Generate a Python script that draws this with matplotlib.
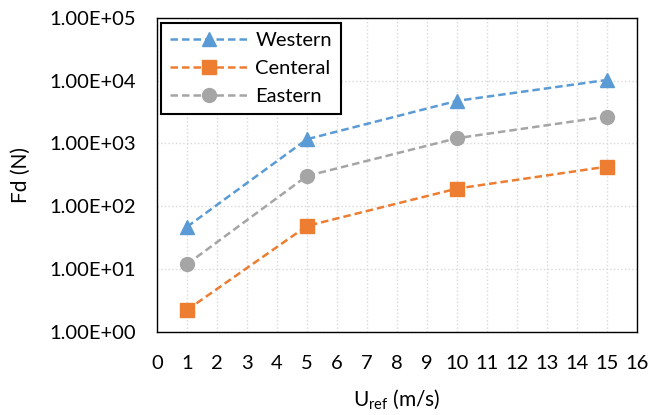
import numpy as np
import matplotlib
matplotlib.use('Agg')
import matplotlib.pyplot as plt
from matplotlib.ticker import FixedLocator, FuncFormatter

plt.rcParams['font.family'] = ['Lato', 'DejaVu Sans']
plt.rcParams['mathtext.fontset'] = 'custom'
plt.rcParams['mathtext.rm'] = 'Lato'

# ==================== DATA ====================
u_ref = [1, 5, 10, 15]
western = [47, 1170, 4780, 10300]
central = [2.22, 48.5, 191, 428]
eastern = [11.9, 304, 1215, 2685]
x_ticks = list(range(0, 17))
y_ticks = [1e0, 1e1, 1e2, 1e3, 1e4, 1e5]
# ==============================================

fig = plt.figure(figsize=(6.52, 4.15), dpi=100)
ax = fig.add_axes([0.2408, 0.2007, 0.9770 - 0.2408, 0.9566 - 0.2007])

dash = (3.0, 1.6)
ax.plot(u_ref, western, linestyle=(0, dash), color='#5B9BD5', lw=1.8,
        marker='^', ms=10, label='Western')
ax.plot(u_ref, central, linestyle=(0, dash), color='#ED7D31', lw=1.8,
        marker='s', ms=10, label='Centeral')
ax.plot(u_ref, eastern, linestyle=(0, dash), color='#A5A5A5', lw=1.8,
        marker='o', ms=10, label='Eastern')

ax.set_yscale('log')
ax.set_ylim(1, 1e5)
ax.set_xlim(0, 16)
ax.xaxis.set_major_locator(FixedLocator(x_ticks))
ax.yaxis.set_major_locator(FixedLocator(y_ticks))
ax.yaxis.set_minor_locator(FixedLocator([]))
ax.yaxis.set_major_formatter(FuncFormatter(lambda v, p: f"1.00E+{int(round(np.log10(v))):02d}"))

ax.grid(True, which='major', color='#D9D9D9', linestyle=':', lw=1.0)
ax.set_axisbelow(True)
ax.tick_params(axis='both', length=0, labelsize=14.5)
ax.tick_params(axis='y', pad=15)
ax.tick_params(axis='x', pad=17)
for s in ax.spines.values():
    s.set_color('black')
    s.set_linewidth(1.0)

ax.set_ylabel('Fd (N)', fontsize=15)
ax.set_xlabel('U$_\\mathregular{ref}$ (m/s)', fontsize=15)
ax.yaxis.set_label_coords(-0.262, 0.5)
ax.xaxis.set_label_coords(0.5, -0.18)

leg = ax.legend(loc='upper left', bbox_to_anchor=(0.008, 0.985), fontsize=14.5,
                fancybox=False, framealpha=1, edgecolor='black',
                handlelength=3.9, handletextpad=0.35, borderpad=0.45,
                labelspacing=0.55, borderaxespad=0)
leg.get_frame().set_linewidth(1.5)

plt.savefig('out.png', dpi=100)
